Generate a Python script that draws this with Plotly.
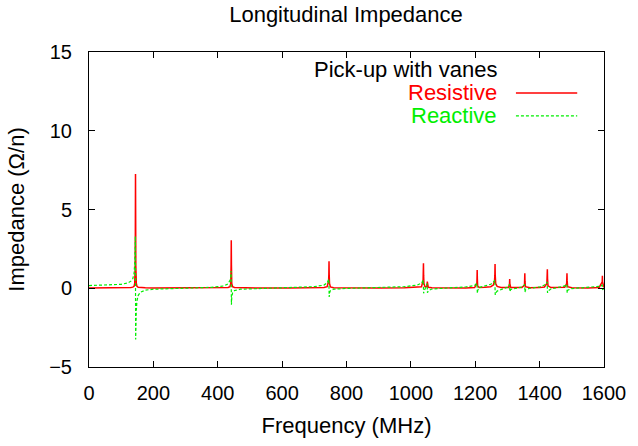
import plotly.graph_objects as go

# ---- data ----
freq_mhz = [
    0, 60, 100, 120, 130, 136, 140, 142, 143.5, 144, 144.5, 145, 145.5, 147, 149, 153, 160, 175, 200,
    300, 380, 420, 432, 438, 440.5, 441.5, 442, 442.5, 443.5, 446, 452, 470, 520,
    620, 700, 730, 740, 744.5, 745.2, 745.7, 746.2, 747.2, 750, 760, 800,
    900, 980, 1020, 1033, 1038, 1038.6, 1039.1, 1039.6, 1040.6, 1044, 1049, 1050.5, 1051, 1051.5, 1054, 1065, 1100,
    1170, 1198, 1205, 1205.5, 1206, 1206.5, 1207.5, 1212, 1230, 1248, 1256, 1260, 1260.9, 1261.5, 1262.1, 1263.5, 1268, 1280,
    1295, 1304, 1306.5, 1307, 1307.5, 1310, 1325, 1345, 1353, 1353.5, 1354, 1354.5, 1356, 1370,
    1400, 1415, 1422.5, 1423.4, 1424, 1424.6, 1426, 1435, 1460, 1478, 1484, 1484.5, 1485, 1485.5, 1487, 1500,
    1550, 1585, 1594.5, 1595, 1595.5, 1600,
]

resistive = [
    0.02, 0.02, 0.03, 0.04, 0.05, 0.07, 0.12, 0.3, 1.4, 3.6, 7.25, 3.6, 1.4, 0.3, 0.12, 0.06, 0.04, 0.03, 0.02,
    0.02, 0.02, 0.03, 0.05, 0.1, 0.3, 1.5, 3.05, 1.5, 0.3, 0.1, 0.05, 0.03, 0.02,
    0.02, 0.03, 0.05, 0.1, 0.5, 0.9, 1.71, 0.9, 0.3, 0.08, 0.03, 0.02,
    0.02, 0.03, 0.05, 0.1, 0.5, 0.8, 1.58, 0.8, 0.3, 0.1, 0.1, 0.2, 0.42, 0.2, 0.06, 0.03, 0.02,
    0.02, 0.04, 0.3, 0.6, 1.16, 0.6, 0.15, 0.05, 0.06, 0.1, 0.2, 0.5, 0.8, 1.54, 0.8, 0.3, 0.12, 0.05,
    0.03, 0.05, 0.3, 0.59, 0.3, 0.05, 0.03, 0.04, 0.2, 0.45, 0.95, 0.45, 0.1, 0.03,
    0.04, 0.08, 0.3, 0.6, 1.2, 0.6, 0.15, 0.04, 0.03, 0.06, 0.3, 0.5, 0.95, 0.5, 0.1, 0.03,
    0.02, 0.05, 0.4, 0.8, 0.4, 0.05,
]

reactive = [
    0.17, 0.2, 0.25, 0.33, 0.45, 0.6, 0.95, 1.55, 3.0, 3.3, 0.1, -3.25, -2.9, -1.4, -0.8, -0.45, -0.25, -0.12, -0.06,
    0.0, 0.06, 0.15, 0.28, 0.5, 0.75, 1.1, 0.05, -1.05, -0.6, -0.3, -0.15, -0.06, -0.02,
    0.04, 0.1, 0.2, 0.35, 0.55, 0.58, 0.0, -0.55, -0.3, -0.15, -0.06, -0.01,
    0.04, 0.1, 0.2, 0.33, 0.5, 0.53, 0.0, -0.32, -0.2, -0.05, 0.15, 0.3, 0.0, -0.28, -0.15, -0.05, 0.0,
    0.08, 0.18, 0.32, 0.3, 0.0, -0.32, -0.15, 0.05, 0.15, 0.25, 0.38, 0.5, 0.52, 0.0, -0.42, -0.3, -0.18, -0.08,
    0.0, 0.1, 0.25, 0.0, -0.22, -0.08, 0.0, 0.08, 0.22, 0.25, 0.0, -0.25, -0.1, 0.0,
    0.08, 0.2, 0.38, 0.4, 0.0, -0.3, -0.18, -0.05, 0.05, 0.15, 0.25, 0.25, 0.0, -0.3, -0.12, -0.02,
    0.05, 0.12, 0.2, 0.0, -0.1, 0.0,
]

x_ticks = [0, 200, 400, 600, 800, 1000, 1200, 1400, 1600]
y_ticks = [-5, 0, 5, 10, 15]

title_text = "Longitudinal Impedance"
x_title = "Frequency (MHz)"
y_title = "Impedance (\u03a9/n)"
legend_title = "Pick-up with vanes"
series_names = ["Resistive", "Reactive"]
series_colors = ["#ff0000", "#00ee00"]

FONT = "Liberation Sans, Arial, Helvetica, sans-serif"

fig = go.Figure()
fig.add_trace(go.Scatter(x=freq_mhz, y=resistive, mode="lines", name=series_names[0],
                         line=dict(color=series_colors[0], width=1.5), showlegend=False))
fig.add_trace(go.Scatter(x=freq_mhz, y=reactive, mode="lines", name=series_names[1],
                         line=dict(color=series_colors[1], width=1.2, dash="3px,2px"), showlegend=False))

axis_common = dict(showgrid=False, zeroline=False, showline=True, linecolor="#000000", linewidth=1,
                   mirror="ticks", ticks="inside", ticklen=6, tickcolor="#000000",
                   tickfont=dict(family=FONT, size=20, color="#000000"))

fig.update_layout(
    width=638, height=446,
    margin=dict(l=89, r=29, t=52, b=79),
    paper_bgcolor="white", plot_bgcolor="white",
    font=dict(family=FONT, color="#000000"),
    title=dict(text=title_text, x=0.499, xref="paper", y=1 - 14 / 446, yref="container",
               xanchor="center", yanchor="middle", font=dict(family=FONT, size=22, color="#000000")),
    xaxis=dict(range=[0, 1600], tickvals=x_ticks, ticklabelstandoff=8,
               title=dict(text=x_title, standoff=14, font=dict(family=FONT, size=22, color="#000000")),
               **axis_common),
    yaxis=dict(range=[-5, 15], tickvals=y_ticks, ticklabelstandoff=12,
               title=dict(text=y_title, standoff=18, font=dict(family=FONT, size=22, color="#000000")),
               **axis_common),
)

# gnuplot-style key: text right-aligned, sample line to the right
key_y = [0.943, 0.870, 0.797]
fig.add_annotation(x=0.796, y=key_y[0], xref="paper", yref="paper", text=legend_title,
                   showarrow=False, xanchor="right", yanchor="middle",
                   font=dict(family=FONT, size=22, color="#000000"))
for i, (nm, col) in enumerate(zip(series_names, series_colors)):
    fig.add_annotation(x=0.796, y=key_y[i + 1], xref="paper", yref="paper", text=nm,
                       showarrow=False, xanchor="right", yanchor="middle",
                       font=dict(family=FONT, size=22, color=col))
    fig.add_shape(type="line", xref="paper", yref="paper", x0=0.829, x1=0.948,
                  y0=key_y[i + 1], y1=key_y[i + 1],
                  line=dict(color=col, width=1.5 if i == 0 else 1.2, dash="solid" if i == 0 else "3px,2px"))

fig.write_html("out.html")
